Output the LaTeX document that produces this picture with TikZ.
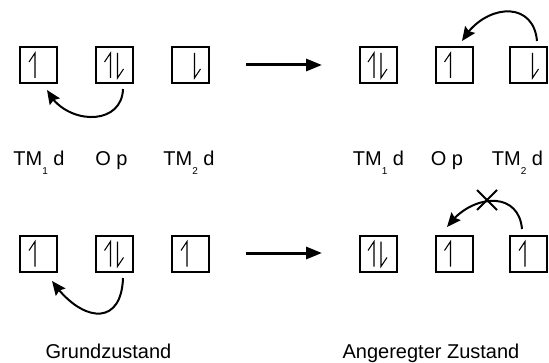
\documentclass[tikz,border=0pt]{standalone}
\usepackage{fontspec}
\setmainfont{Liberation Sans}
\usetikzlibrary{arrows.meta,bending}
\newcommand{\lowsub}[1]{\raisebox{-9pt}{\fontsize{10}{10}\selectfont #1}}
\tikzset{
  bx/.style={draw, line width=2pt, minimum width=37pt, minimum height=36pt, inner sep=0pt},
  spin/.style={line width=1.1pt},
  lbl/.style={anchor=base, inner sep=0pt, font=\fontsize{20}{21}\selectfont},
  curv/.style={line width=2pt, -{Stealth[length=14pt,width=12pt,inset=2pt]}},
  harrow/.style={line width=3pt, -{Triangle[length=16pt,width=12pt]}},
  xmark/.style={line width=2pt},
  pics/upspin/.style={code={\draw[spin] (-3.5pt,-13pt) -- (-3.5pt,12pt) -- (-9.5pt,3pt);}},
  pics/downspin/.style={code={\draw[spin] (4pt,12pt) -- (4pt,-13pt) -- (10pt,-4pt);}},
  pics/pairspin/.style={code={\draw[spin] (-4pt,-13pt) -- (-4pt,12pt) -- (-10pt,3pt);
                               \draw[spin] (3pt,12pt) -- (3pt,-13pt) -- (9pt,-4pt);}},
}
\begin{document}
\begin{tikzpicture}[x=1pt,y=1pt]
\useasboundingbox (0,0) rectangle (549,362);
% row 1, left (ground state)
\node[bx] (a1) at (38.5,297) {};
\node[bx] (b1) at (114.5,297) {};
\node[bx] (c1) at (190.5,297) {};
\pic at (a1) {upspin};
\pic at (b1) {pairspin};
\pic at (c1) {downspin};
% row 1, right
\node[bx] (d1) at (378,297) {};
\node[bx] (e1) at (454,297) {};
\node[bx] (f1) at (528.5,297) {};
\pic at (d1) {pairspin};
\pic at (e1) {upspin};
\pic at (f1) {downspin};
% row 2, left
\node[bx] (a2) at (38.5,108.5) {};
\node[bx] (b2) at (114.5,108.5) {};
\node[bx] (c2) at (190.5,108.5) {};
\pic at (a2) {upspin};
\pic at (b2) {pairspin};
\pic at (c2) {upspin};
% row 2, right
\node[bx] (d2) at (378,108.5) {};
\node[bx] (e2) at (454,108.5) {};
\node[bx] (f2) at (528.5,108.5) {};
\pic at (d2) {pairspin};
\pic at (e2) {upspin};
\pic at (f2) {upspin};
% horizontal arrows
\coordinate (h1s) at (246,297);
\coordinate (h1e) at (322,297);
\coordinate (h2s) at (246,109);
\coordinate (h2e) at (322,109);
\draw[harrow] (h1s) -- (h1e);
\draw[harrow] (h2s) -- (h2e);
% curved arrows
\draw[curv] ([shift={(8.5,-5)}]b1.south) to[out=-92, in=-64, looseness=1.3] ([shift={(8.5,-6)}]a1.south);
\draw[curv] ([shift={(8.5,5)}]f1.north) to[out=95, in=60, looseness=1.45] ([shift={(8,5)}]e1.north);
\draw[curv] ([shift={(8.5,-5.5)}]b2.south) to[out=-92, in=-55, looseness=1.8] ([shift={(13.5,-8.5)}]a2.south);
\draw[curv] ([shift={(-6.5,5.5)}]f2.north) to[out=95, in=55, looseness=1.36] ([shift={(-7,7.5)}]e2.north);
% cross
\coordinate (xc) at (487,162);
\draw[xmark] ([shift={(-10,-10)}]xc) -- ([shift={(10,10)}]xc);
\draw[xmark] ([shift={(-10,10)}]xc) -- ([shift={(10,-10)}]xc);
% labels
\node[lbl] (l1) at (39,196) {TM\lowsub{1} d};
\node[lbl] (l2) at (111.5,196) {O p};
\node[lbl] (l3) at (189,196) {TM\lowsub{2} d};
\node[lbl] (l4) at (378.5,196) {TM\lowsub{1} d};
\node[lbl] (l5) at (447,196) {O p};
\node[lbl] (l6) at (517.5,196) {TM\lowsub{2} d};
\node[lbl] (g1) at (108.5,4) {Grundzustand};
\node[lbl] (g2) at (431,4) {Angeregter Zustand};
\end{tikzpicture}
\end{document}
